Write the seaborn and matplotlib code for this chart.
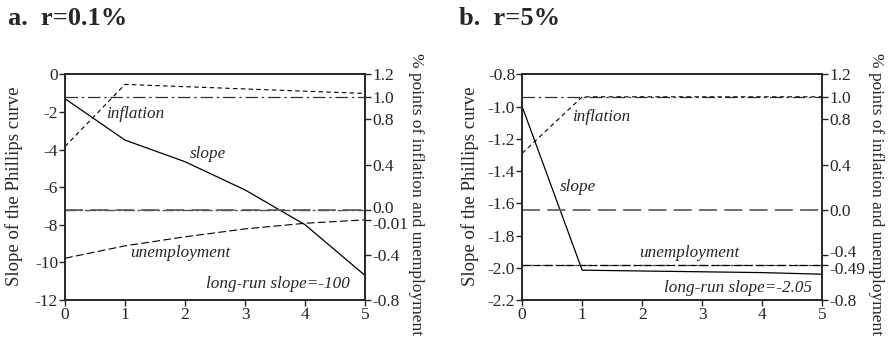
import numpy as np
import seaborn as sns
import matplotlib.pyplot as plt
import matplotlib.transforms as mtransforms
import pandas as pd

# horizon (years)
years = [0, 1, 2, 3, 4, 5]

# panel a: r = 0.1%
slope_a = [-1.3, -3.5, -4.65, -6.15, -8.0, -10.7]
inflation_a = [0.56, 1.11, 1.09, 1.07, 1.05, 1.03]
unemployment_a = [-0.43, -0.32, -0.24, -0.17, -0.12, -0.09]
lr_inflation_a = 1.0
lr_unemployment_a = 0.0
left_ticks_a = [0, -2, -4, -6, -8, -10, -12]
left_labels_a = ['0', '-2', '-4', '-6', '-8', '-10', '-12']
right_ticks_a = [1.2, 1.0, 0.8, 0.4, 0.0, -0.09, -0.4, -0.8]
right_labels_a = ['1.2', '1.0', '0.8', '0.4', '0.0', '-0.01', '-0.4', '-0.8']

# panel b: r = 5%
slope_b = [-1.0, -2.015, -2.02, -2.025, -2.03, -2.04]
inflation_b = [0.50, 1.0, 1.0, 1.0, 1.0, 1.0]
unemployment_b = [-0.49, -0.49, -0.49, -0.49, -0.49, -0.49]
lr_inflation_b = 1.0
lr_unemployment_b = -0.49
left_ticks_b = [-0.8, -1.0, -1.2, -1.4, -1.6, -1.8, -2.0, -2.2]
left_labels_b = ['-0.8', '-1.0', '-1.2', '-1.4', '-1.6', '-1.8', '-2.0', '-2.2']
right_ticks_b = [1.2, 1.0, 0.8, 0.4, 0.0, -0.4, -0.49, -0.8]
right_labels_b = ['1.2', '1.0', '0.8', '0.4', '0.0', '-0.4', '-0.49', '-0.8']

sns.set_style('ticks')
plt.rcParams['font.family'] = ['Liberation Serif', 'DejaVu Serif']
plt.rcParams['axes.linewidth'] = 1.2
plt.rcParams['xtick.major.width'] = 1.0
plt.rcParams['ytick.major.width'] = 1.0
plt.rcParams['xtick.major.size'] = 4
plt.rcParams['ytick.major.size'] = 4

fig = plt.figure(figsize=(8.88, 3.4), dpi=100)


def draw_panel(rect, slope, inflation, unemployment, lr_inf, lr_unemp,
               left_ticks, left_labels, right_ticks, right_labels, nudges, notes):
    ax = fig.add_axes(rect)
    df = pd.DataFrame({'year': years, 'slope': slope,
                       'inflation': inflation, 'unemployment': unemployment})
    sns.lineplot(data=df, x='year', y='slope', ax=ax, color='black', lw=0.9)
    ax.set_xlim(0, 5)
    ax.set_ylim(left_ticks[-1], left_ticks[0])
    ax.set_yticks(left_ticks)
    ax.set_yticklabels(left_labels)
    ax.set_xticks(years)
    ax.set_xlabel('')
    ax.set_ylabel('')
    ax.tick_params(labelsize=12.5, pad=1)

    ax2 = ax.twinx()
    ax2.axhline(0.0, color='#666666', lw=1.3, dashes=(10, 4))
    ax2.axhline(lr_unemp, color='#555555', lw=1.0, dashes=(8, 2, 2, 2))
    ax2.axhline(lr_inf, color='#333333', lw=0.9, dashes=(10, 3, 2, 3))
    sns.lineplot(data=df, x='year', y='inflation', ax=ax2, color='black',
                 lw=0.8).lines[-1].set_dashes((4, 3))
    sns.lineplot(data=df, x='year', y='unemployment', ax=ax2, color='black',
                 lw=0.8).lines[-1].set_dashes((7, 3))
    ax2.set_ylim(-0.8, 1.2)
    ax2.set_yticks(right_ticks)
    ax2.set_yticklabels(right_labels)
    ax2.set_ylabel('')
    ax2.tick_params(labelsize=12.5, pad=1)
    for sp in ax2.spines.values():
        sp.set_linewidth(1.2)
    # crowded labels near each other are pushed apart a little
    for lab in ax2.get_yticklabels():
        dy = nudges.get(lab.get_text(), 0)
        if dy:
            lab.set_transform(lab.get_transform() +
                              mtransforms.ScaledTranslation(0, dy / 72, fig.dpi_scale_trans))

    for txt, x, y, ha in notes:
        ax.text(x, y, txt, ha=ha, va='center', style='italic', fontsize=12.3)
    return ax


notes_a = [('inflation', 0.68, -2.1, 'left'), ('slope', 2.08, -4.25, 'left'),
           ('unemployment', 1.08, -9.5, 'left'),
           ('long-run slope=-100', 4.75, -11.15, 'right')]
notes_b = [('inflation', 0.83, -1.065, 'left'), ('slope', 0.63, -1.5, 'left'),
           ('unemployment', 1.95, -1.91, 'left'),
           ('long-run slope=-2.05', 4.83, -2.125, 'right')]

draw_panel([0.0732, 0.1176, 0.338, 0.664], slope_a, inflation_a, unemployment_a,
           lr_inflation_a, lr_unemployment_a, left_ticks_a, left_labels_a,
           right_ticks_a, right_labels_a, {'0.0': 2, '-0.01': -2}, notes_a)
draw_panel([0.588, 0.1176, 0.338, 0.664], slope_b, inflation_b, unemployment_b,
           lr_inflation_b, lr_unemployment_b, left_ticks_b, left_labels_b,
           right_ticks_b, right_labels_b, {'-0.4': 3, '-0.49': -2}, notes_b)

fig.text(0.009, 0.98, 'a.  r=0.1%', fontsize=19, fontweight='bold', va='top')
fig.text(0.517, 0.98, 'b.  r=5%', fontsize=19, fontweight='bold', va='top')

for x in [0.016, 0.529]:
    fig.text(x, 0.453, 'Slope of the Phillips curve', rotation=90,
             ha='center', va='center', fontsize=13.5)
for x in [0.468, 0.986]:
    fig.text(x, 0.43, '% points of inflation and unemployment', rotation=270,
             ha='center', va='center', fontsize=12.5)

fig.savefig('out.png', dpi=100)
